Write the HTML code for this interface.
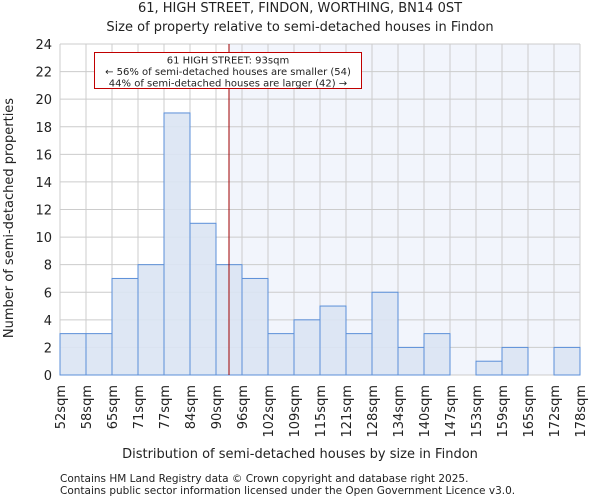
<!DOCTYPE html>
<html><head><meta charset="utf-8"><style>
body{margin:0;background:#fff;font-family:"DejaVu Sans","Liberation Sans",sans-serif}
svg text{font-family:"DejaVu Sans","Liberation Sans",sans-serif;fill:#222}
</style></head><body>
<svg id="chart" width="600" height="500" xmlns="http://www.w3.org/2000/svg">
<text x="300" y="12" font-size="13" text-anchor="middle">61, HIGH STREET, FINDON, WORTHING, BN14 0ST</text>
<text x="300" y="31" font-size="13" text-anchor="middle">Size of property relative to semi-detached houses in Findon</text>
<g id="plot"></g>
<text x="300" y="458" font-size="13" text-anchor="middle">Distribution of semi-detached houses by size in Findon</text>
<text transform="translate(13,218) rotate(-90)" font-size="13" text-anchor="middle">Number of semi-detached properties</text>
<text x="60" y="482" font-size="10.5">Contains HM Land Registry data © Crown copyright and database right 2025.</text>
<text x="60" y="494" font-size="10.5">Contains public sector information licensed under the Open Government Licence v3.0.</text>
</svg>
<script>
const binLabels=["52sqm","58sqm","65sqm","71sqm","77sqm","84sqm","90sqm","96sqm","102sqm","109sqm","115sqm","121sqm","128sqm","134sqm","140sqm","147sqm","153sqm","159sqm","165sqm","172sqm","178sqm"];
const counts=[3,3,7,8,19,11,8,7,3,4,5,3,6,2,3,0,1,2,0,2];
const yTicks=[0,2,4,6,8,10,12,14,16,18,20,22,24];
const propertyBinPos=6.5;
const annotation=["61 HIGH STREET: 93sqm","← 56% of semi-detached houses are smaller (54)","44% of semi-detached houses are larger (42) →"];
const NS="http://www.w3.org/2000/svg";
const L=60,R=580,T=44,B=375,yMax=24;
const g=document.getElementById('plot');
const bw=(R-L)/counts.length;
const x=i=>L+i*bw;
const y=v=>B-(v/yMax)*(B-T);
function mk(t,a){const e=document.createElementNS(NS,t);for(const k in a)e.setAttribute(k,a[k]);g.appendChild(e);return e;}
let e;
const px=x(propertyBinPos);
e=mk('rect',{x:px,y:T,width:R-px,height:B-T,fill:'#f2f5fc'});


yTicks.forEach(v=>{
 e=mk('line',{x1:L,x2:R,y1:y(v),y2:y(v),stroke:'#ccc','stroke-width':1});
 
 
 e=mk('text',{x:L-8,y:y(v)+5,'font-size':13,'text-anchor':'end'});e.textContent=v;
 
 
});
binLabels.forEach((s,i)=>{
 e=mk('line',{x1:x(i),x2:x(i),y1:T,y2:B,stroke:'#ccc','stroke-width':1});
 
 
 e=mk('text',{transform:`translate(${x(i)+5},${B+10}) rotate(-90)`,'font-size':13,'text-anchor':'end'});e.textContent=s;
 
 
});
counts.forEach((c,i)=>{
 if(c<=0)return;
 e=mk('rect',{x:x(i),y:y(c),width:bw,height:B-y(c),fill:'#dae4f3','fill-opacity':0.9,stroke:'#5b8fd8','stroke-width':1});
 
 
});
e=mk('line',{x1:px,x2:px,y1:T,y2:B,stroke:'#a00000','stroke-width':1});


e=mk('rect',{x:94.5,y:52.5,width:267,height:36,fill:'#fff',stroke:'#c00000','stroke-width':1});


annotation.forEach((s,i)=>{
 e=mk('text',{x:228,y:63.5+i*11.5,'font-size':10,'text-anchor':'middle'});e.textContent=s;
 
 
});
</script>
</body></html>
